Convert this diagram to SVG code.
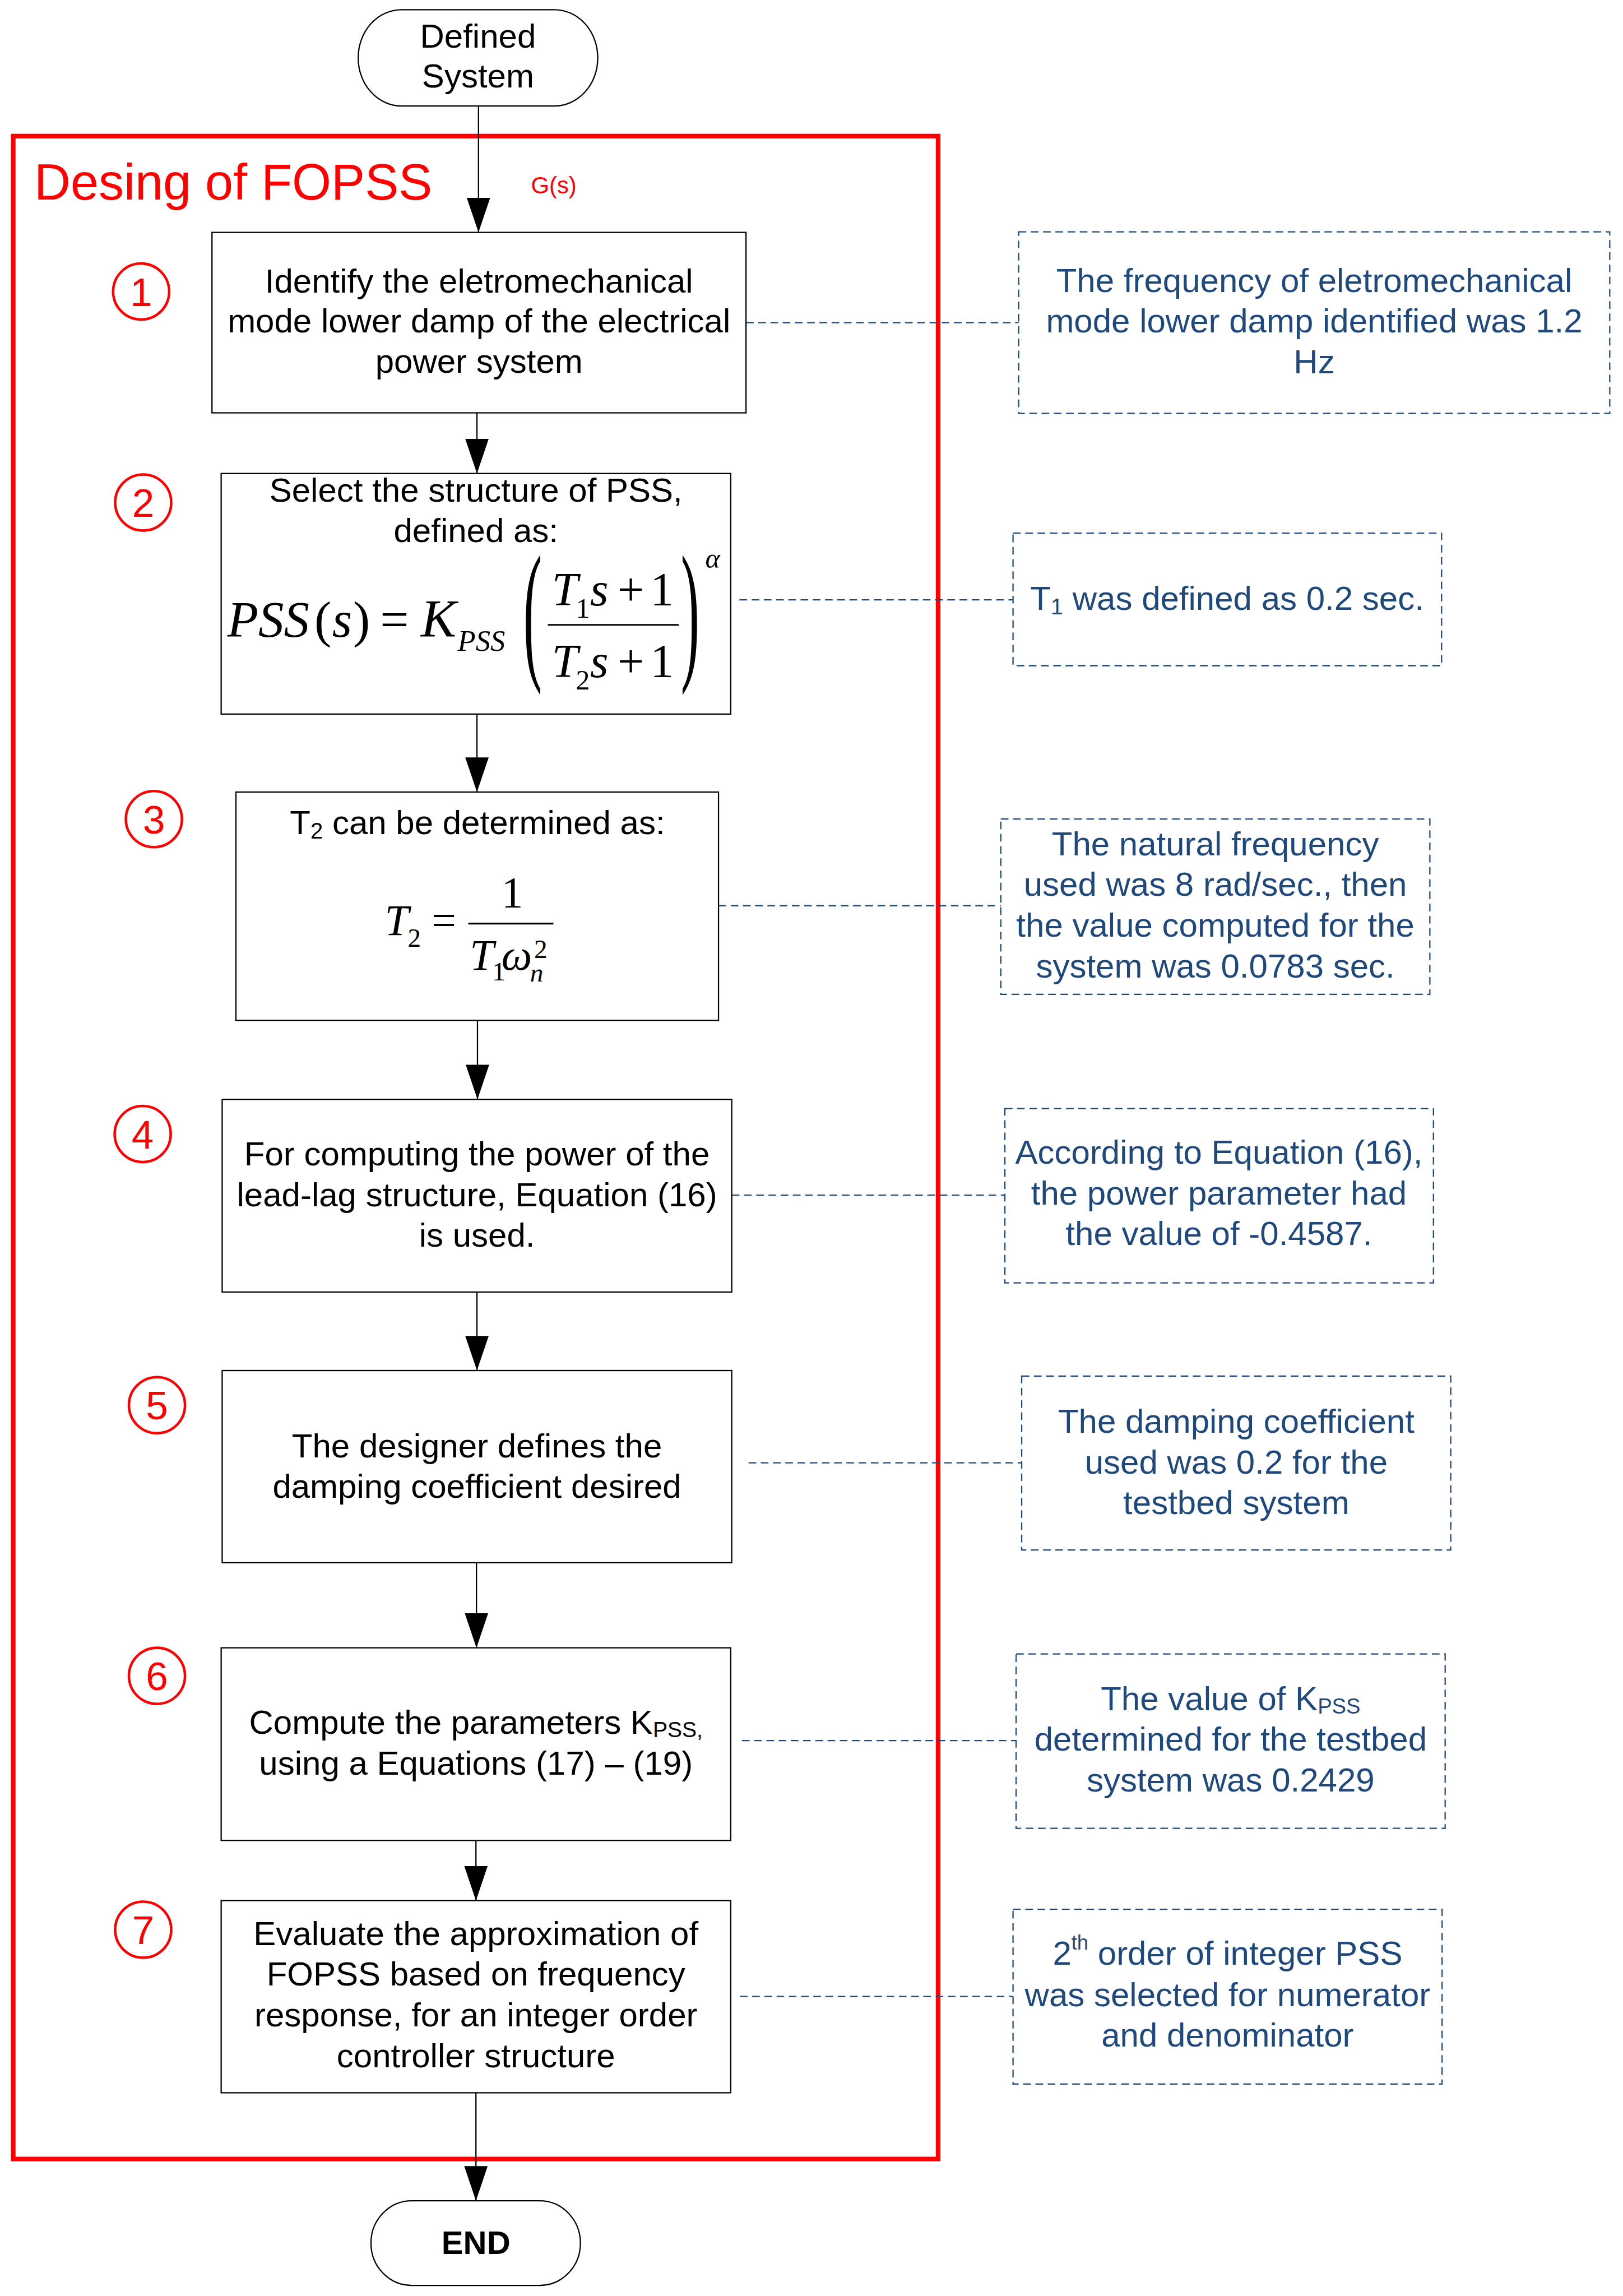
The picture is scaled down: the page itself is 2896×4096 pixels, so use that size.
<svg xmlns="http://www.w3.org/2000/svg" width="2896" height="4096" viewBox="0 0 2896 4096">
<style>
.box{fill:#fff;stroke:#000;stroke-width:2.5}
.term{fill:#fff;stroke:#000;stroke-width:2.5}
.note{fill:none;stroke:#1F497D;stroke-width:2.5;stroke-dasharray:15 9}
.t{font-family:"Liberation Sans",Arial,sans-serif;font-size:66px;fill:#000;text-anchor:middle}
.n{font-family:"Liberation Sans",Arial,sans-serif;font-size:66px;fill:#1F497D;text-anchor:middle}
.m{font-family:"Liberation Serif","Times New Roman",serif;fill:#000}
.i{font-style:italic}
.circ{fill:none;stroke:#f00;stroke-width:5}
.num{font-family:"Liberation Sans",Arial,sans-serif;font-size:78px;fill:#f00;text-anchor:middle}
.conn{stroke:#000;stroke-width:2.5;fill:none}
.dash{stroke:#1F497D;stroke-width:2.5;stroke-dasharray:15 9;fill:none}
.bar{stroke:#000;stroke-width:3.5}
</style>
<defs>
<marker id="arr" markerUnits="userSpaceOnUse" markerWidth="68" markerHeight="46" refX="68" refY="23" orient="auto" viewBox="0 0 68 46">
<path d="M0,0 L68,23 L0,46 z" fill="#000"/>
</marker>
</defs>
<rect width="2896" height="4096" fill="#fff"/>
<g transform="scale(0.909262)">
<g id="frame">
<rect x="26" y="267" width="1815" height="3969" fill="none" stroke="#f00" stroke-width="9"/>
<text x="67" y="391" style="font-family:'Liberation Sans',Arial,sans-serif;font-size:99px;fill:#f00">Desing of FOPSS</text>
<text x="1042" y="379" style="font-family:'Liberation Sans',Arial,sans-serif;font-size:46px;fill:#f00">G(s)</text>
</g>
<g id="connectors">
<line class="conn" x1="939" y1="208" x2="939" y2="456" marker-end="url(#arr)"/>
<line class="conn" x1="936" y1="810" x2="936" y2="929" marker-end="url(#arr)"/>
<line class="conn" x1="936" y1="1401" x2="936" y2="1554" marker-end="url(#arr)"/>
<line class="conn" x1="937" y1="2002" x2="937" y2="2157" marker-end="url(#arr)"/>
<line class="conn" x1="936" y1="2535" x2="936" y2="2689" marker-end="url(#arr)"/>
<line class="conn" x1="935" y1="3066" x2="935" y2="3233" marker-end="url(#arr)"/>
<line class="conn" x1="934" y1="3611" x2="934" y2="3729" marker-end="url(#arr)"/>
<line class="conn" x1="934" y1="4106" x2="934" y2="4318" marker-end="url(#arr)"/>
<line class="dash" x1="1464" y1="633" x2="1999" y2="633"/>
<line class="dash" x1="1451" y1="1177" x2="1988" y2="1177"/>
<line class="dash" x1="1410" y1="1777" x2="1964" y2="1777"/>
<line class="dash" x1="1436" y1="2345" x2="1972" y2="2345"/>
<line class="dash" x1="1469" y1="2870" x2="2005" y2="2870"/>
<line class="dash" x1="1456" y1="3415" x2="1994" y2="3415"/>
<line class="dash" x1="1452" y1="3917" x2="1988" y2="3917"/>
</g>
<g id="start">
<rect class="term" x="703" y="19" width="470" height="189" rx="85" ry="94"/>
<text class="t" x="938" y="93">Defined</text>
<text class="t" x="938" y="172">System</text>
</g>
<g id="step1">
<rect class="box" x="416" y="456" width="1048" height="354"/>
<text class="t" x="940" y="574">Identify the eletromechanical</text>
<text class="t" x="940" y="652">mode lower damp of the electrical</text>
<text class="t" x="940" y="731">power system</text>
<circle class="circ" cx="277" cy="572" r="55"/>
<text class="num" x="277" y="600">1</text>
</g>
<g id="step2">
<rect class="box" x="434" y="929" width="1000" height="472"/>
<text class="t" x="934" y="984">Select the structure of PSS,</text>
<text class="t" x="934" y="1063">defined as:</text>
<text class="m i" x="446" y="1249" font-size="100">PSS</text>
<text class="m" x="617" y="1249" font-size="100">(</text>
<text class="m i" x="652" y="1249" font-size="100">s</text>
<text class="m" x="693" y="1249" font-size="100">)</text>
<text class="m" x="746" y="1249" font-size="100">=</text>
<text class="m i" x="826" y="1249" font-size="104">K</text>
<text class="m i" x="898" y="1277" font-size="58">PSS</text>
<text class="m" transform="translate(1027,1299) scale(1,2.75)" font-size="110">(</text>
<text class="m" transform="translate(1336,1299) scale(1,2.75)" font-size="110">)</text>
<line class="bar" x1="1075" y1="1226" x2="1332" y2="1226"/>
<text class="m i" x="1083" y="1188" font-size="92">T</text>
<text class="m" x="1130" y="1212" font-size="55">1</text>
<text class="m i" x="1158" y="1188" font-size="92">s</text>
<text class="m" x="1212" y="1188" font-size="92">+</text>
<text class="m" x="1276" y="1188" font-size="92">1</text>
<text class="m i" x="1083" y="1329" font-size="92">T</text>
<text class="m" x="1130" y="1353" font-size="55">2</text>
<text class="m i" x="1158" y="1329" font-size="92">s</text>
<text class="m" x="1212" y="1329" font-size="92">+</text>
<text class="m" x="1276" y="1329" font-size="92">1</text>
<text class="m i" x="1384" y="1114" font-size="55">α</text>
<circle class="circ" cx="281" cy="986" r="55"/>
<text class="num" x="281" y="1014">2</text>
</g>
<g id="step3">
<rect class="box" x="463" y="1554" width="947" height="448"/>
<text class="t" x="937" y="1637">T<tspan font-size="44" dy="8">2</tspan><tspan dy="-8"> can be determined as:</tspan></text>
<text class="m i" x="755" y="1835" font-size="85">T</text>
<text class="m" x="800" y="1858" font-size="52">2</text>
<text class="m" x="847" y="1835" font-size="85">=</text>
<line class="bar" x1="919" y1="1812" x2="1086" y2="1812"/>
<text class="m" x="984" y="1779" font-size="85">1</text>
<text class="m i" x="922" y="1903" font-size="85">T</text>
<text class="m" x="966" y="1924" font-size="52">1</text>
<text class="m i" x="984" y="1903" font-size="85">ω</text>
<text class="m" x="1048" y="1880" font-size="52">2</text>
<text class="m i" x="1040" y="1926" font-size="52">n</text>
<circle class="circ" cx="302" cy="1607" r="55"/>
<text class="num" x="302" y="1635">3</text>
</g>
<g id="step4">
<rect class="box" x="436" y="2157" width="1000" height="378"/>
<text class="t" x="936" y="2287">For computing the power of the</text>
<text class="t" x="936" y="2367">lead-lag structure, Equation (16)</text>
<text class="t" x="936" y="2446">is used.</text>
<circle class="circ" cx="280" cy="2225" r="55"/>
<text class="num" x="280" y="2253">4</text>
</g>
<g id="step5">
<rect class="box" x="436" y="2689" width="1000" height="377"/>
<text class="t" x="936" y="2859">The designer defines the</text>
<text class="t" x="936" y="2939">damping coefficient desired</text>
<circle class="circ" cx="308" cy="2757" r="55"/>
<text class="num" x="308" y="2785">5</text>
</g>
<g id="step6">
<rect class="box" x="434" y="3233" width="1000" height="378"/>
<text class="t" x="934" y="3402">Compute the parameters K<tspan font-size="43" dy="6">PSS,</tspan></text>
<text class="t" x="934" y="3482">using a Equations (17) – (19)</text>
<circle class="circ" cx="308" cy="3288" r="55"/>
<text class="num" x="308" y="3316">6</text>
</g>
<g id="step7">
<rect class="box" x="434" y="3729" width="1000" height="377"/>
<text class="t" x="934" y="3816">Evaluate the approximation of</text>
<text class="t" x="934" y="3895">FOPSS based on frequency</text>
<text class="t" x="934" y="3976">response, for an integer order</text>
<text class="t" x="934" y="4056">controller structure</text>
<circle class="circ" cx="281" cy="3786" r="55"/>
<text class="num" x="281" y="3814">7</text>
</g>
<g id="end">
<rect class="term" x="728" y="4318" width="411" height="166" rx="80" ry="83"/>
<text class="t" x="934" y="4422" style="font-weight:bold;font-size:64px">END</text>
</g>
<g id="note1">
<rect class="note" x="1999" y="455" width="1160" height="356"/>
<text class="n" x="2579" y="573">The frequency of eletromechanical</text>
<text class="n" x="2579" y="652">mode lower damp identified was 1.2</text>
<text class="n" x="2579" y="732">Hz</text>
</g>
<g id="note2">
<rect class="note" x="1988" y="1046" width="841" height="260"/>
<text class="n" x="2408" y="1197">T<tspan font-size="44" dy="8">1</tspan><tspan dy="-8"> was defined as 0.2 sec.</tspan></text>
</g>
<g id="note3">
<rect class="note" x="1964" y="1607" width="842" height="344"/>
<text class="n" x="2385" y="1678">The natural frequency</text>
<text class="n" x="2385" y="1758">used was 8 rad/sec., then</text>
<text class="n" x="2385" y="1838">the value computed for the</text>
<text class="n" x="2385" y="1918">system was 0.0783 sec.</text>
</g>
<g id="note4">
<rect class="note" x="1972" y="2175" width="841" height="342"/>
<text class="n" x="2392" y="2283">According to Equation (16),</text>
<text class="n" x="2392" y="2363">the power parameter had</text>
<text class="n" x="2392" y="2443">the value of -0.4587.</text>
</g>
<g id="note5">
<rect class="note" x="2005" y="2700" width="842" height="341"/>
<text class="n" x="2426" y="2811">The damping coefficient</text>
<text class="n" x="2426" y="2891">used was 0.2 for the</text>
<text class="n" x="2426" y="2970">testbed system</text>
</g>
<g id="note6">
<rect class="note" x="1994" y="3245" width="842" height="342"/>
<text class="n" x="2415" y="3355">The value of K<tspan font-size="42" dy="7">PSS</tspan></text>
<text class="n" x="2415" y="3435">determined for the testbed</text>
<text class="n" x="2415" y="3515">system was 0.2429</text>
</g>
<g id="note7">
<rect class="note" x="1988" y="3746" width="842" height="343"/>
<text class="n" x="2409" y="3855">2<tspan font-size="40" dy="-30">th</tspan><tspan dy="30"> order of integer PSS</tspan></text>
<text class="n" x="2409" y="3936">was selected for numerator</text>
<text class="n" x="2409" y="4015">and denominator</text>
</g>
</g>
</svg>
